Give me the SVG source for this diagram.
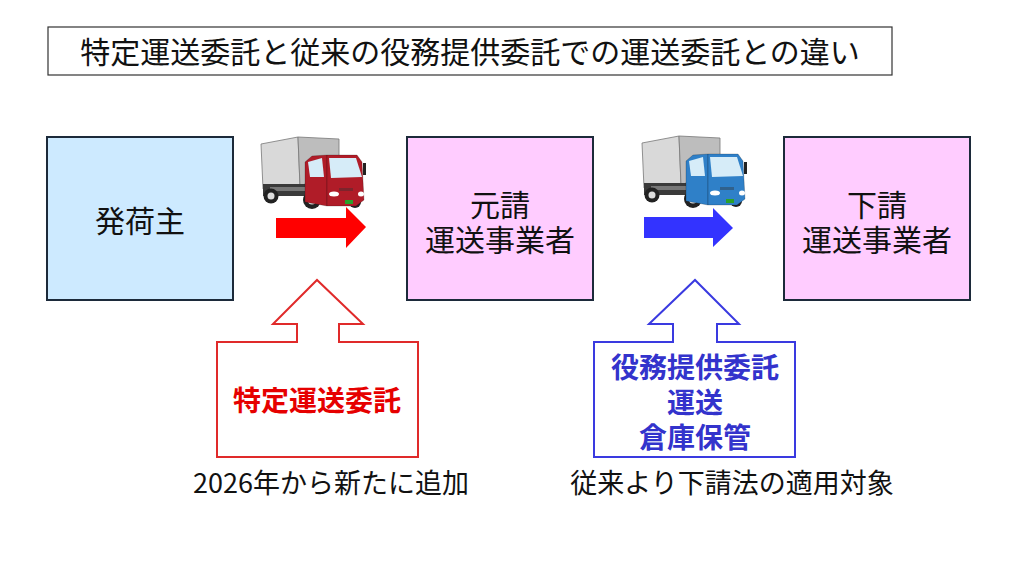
<svg xmlns="http://www.w3.org/2000/svg" width="1024" height="566" viewBox="0 0 1024 566">
<defs>
<style>
.jp{font-family:"Noto Sans CJK JP","Noto Sans",sans-serif;}
.box{stroke:#1c2a3a;stroke-width:2;}
.lbl{font-size:30px;fill:#111;text-anchor:middle;}
.note{font-size:27px;fill:#111;text-anchor:middle;}
</style>
<g id="truck">
<polygon points="261,144 298,137 300,186 263,189" fill="#d9d9d9" stroke="#777" stroke-width="0.8"/>
<polygon points="298,137 339,139 339,170 300,186" fill="#bdbdbd" stroke="#777" stroke-width="0.8"/>
<rect x="263" y="184" width="50" height="12" fill="#3a3a3a"/>
<rect x="270" y="187" width="36" height="4" fill="#777"/>
<circle cx="271" cy="196" r="7.5" fill="#222"/>
<circle cx="271" cy="196" r="3.5" fill="#ddd"/>
<circle cx="312" cy="200" r="9" fill="#222"/>
<circle cx="312" cy="200" r="4.5" fill="#ddd"/>
<circle cx="355" cy="202" r="6" fill="#222"/>
<polygon points="305,162 312,156 327,155 327,206 305,202" stroke="#000" stroke-opacity="0.25" stroke-width="0.8"/>
<polygon points="327,155 357,155 362,162 364,200 356,206 327,206" stroke="#000" stroke-opacity="0.25" stroke-width="0.8"/>
<polygon points="308,162 322,158 324,177 310,177" fill="#d6ecf8"/>
<polygon points="329,158 356,158 362,177 331,178" fill="#d6ecf8"/>
<rect x="363" y="163" width="3" height="12" fill="#222"/>
<ellipse cx="334" cy="194" rx="5" ry="2.5" fill="#fff"/>
<ellipse cx="361" cy="194" rx="3" ry="2.5" fill="#fff"/>
<rect x="339" y="188" width="14" height="3" fill="#333" opacity="0.4"/>
<rect x="345" y="200" width="8" height="4" fill="#2aa02a"/>
</g>
</defs>

<g id="title">
<rect x="48" y="27" width="844" height="48" fill="#fff" stroke="#333" stroke-width="1.2"/>
<text class="jp" x="470" y="63" font-size="30" fill="#111" text-anchor="middle">特定運送委託と従来の役務提供委託での運送委託との違い</text>
</g>

<g id="shipper">
<rect class="box" x="47" y="137" width="186" height="163" fill="#cdeaff"/>
<text class="jp lbl" x="140" y="232" font-size="31">発荷主</text>
</g>

<g id="prime">
<rect class="box" x="407" y="137" width="186" height="163" fill="#ffccff"/>
<text class="jp lbl"><tspan x="500" y="216">元請</tspan><tspan x="500" y="251">運送事業者</tspan></text>
</g>

<g id="sub">
<rect class="box" x="784" y="137" width="186" height="163" fill="#ffccff"/>
<text class="jp lbl"><tspan x="877" y="216">下請</tspan><tspan x="877" y="251">運送事業者</tspan></text>
</g>

<g id="truck-red">
<use href="#truck" fill="#b01c28"/>
</g>
<g id="truck-blue" transform="translate(381,-1)">
<use href="#truck" fill="#2f80c8"/>
</g>

<g id="connectors">
<polygon points="276,218 346,218 346,207 366,227 346,248 346,238 276,238" fill="#ff0000"/>
<polygon points="644,217 713,217 713,208 733,228 713,247 713,238 644,238" fill="#3333ff"/>
</g>

<g id="callout-red">
<path d="M217,342 H297 V324 H273 L317,280 L363,324 H339 V342 H418 V457 H217 Z" fill="#fff" stroke="#e02a2a" stroke-width="2"/>
<text class="jp" x="317" y="411" font-size="28" font-weight="bold" fill="#e60000" text-anchor="middle">特定運送委託</text>
</g>

<g id="callout-blue">
<path d="M594,342 H673 V324 H649 L695,280 L739,324 H717 V342 H795 V457 H594 Z" fill="#fff" stroke="#3a3ae0" stroke-width="2"/>
<text class="jp" font-size="28" font-weight="bold" fill="#3333cc" text-anchor="middle"><tspan x="695" y="378">役務提供委託</tspan><tspan x="695" y="413">運送</tspan><tspan x="695" y="448">倉庫保管</tspan></text>
</g>

<g id="notes">
<text class="jp note" x="331" y="493">2026年から新たに追加</text>
<text class="jp note" x="732" y="493">従来より下請法の適用対象</text>
</g>
</svg>
